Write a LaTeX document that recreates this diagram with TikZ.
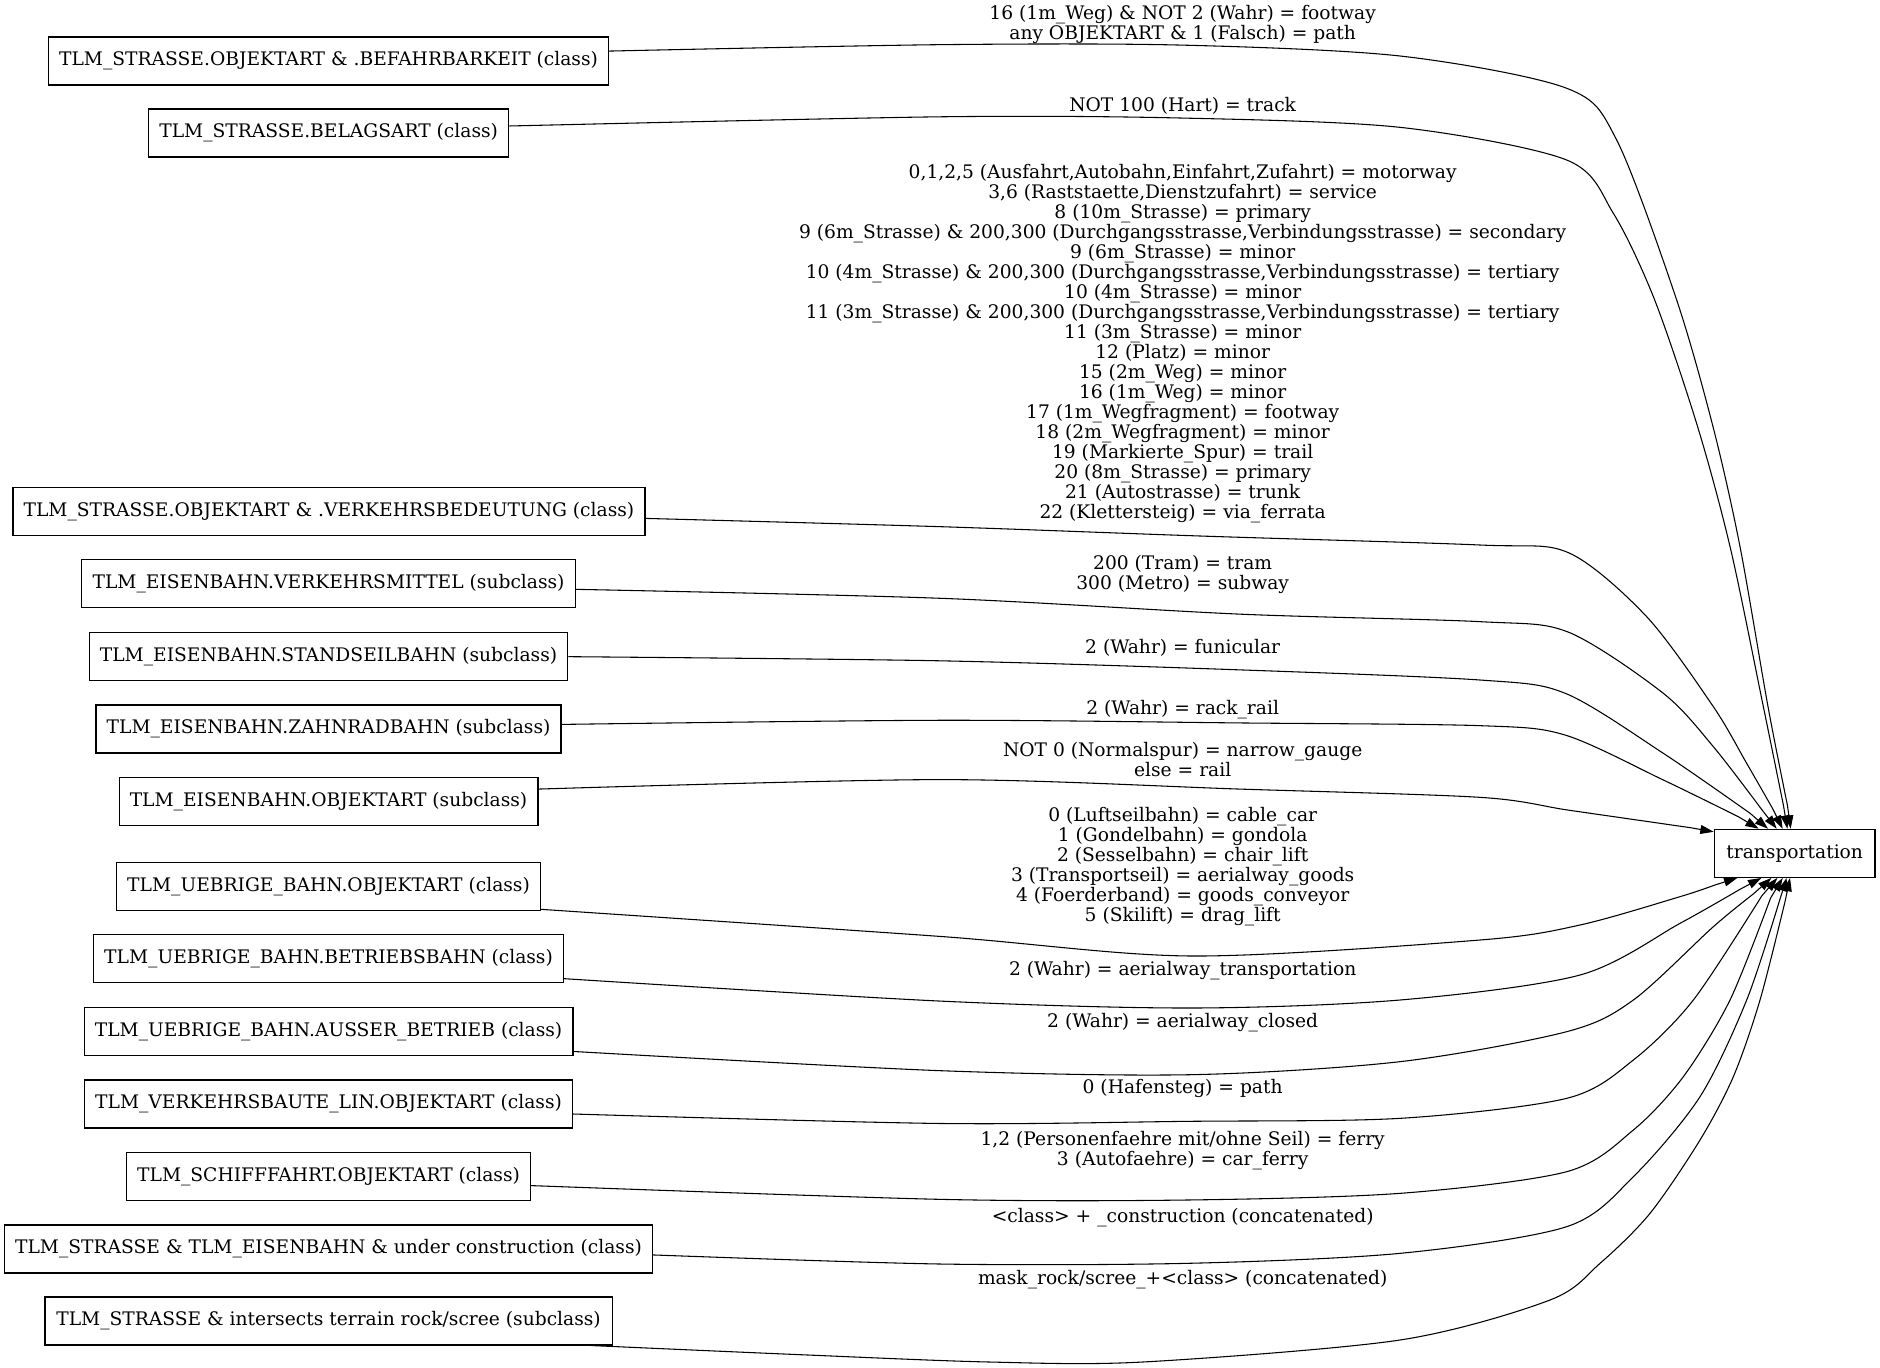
\documentclass[tikz,border=0pt]{standalone}
\usepackage{fontspec}
\setmainfont{DejaVu Serif}
\usetikzlibrary{arrows.meta}
\begin{document}
\begin{tikzpicture}[x=1pt,y=-1pt,
  gbox/.style={draw, line width=0.9pt, rectangle, minimum height=36pt, inner xsep=8pt, inner ysep=0pt, font=\fontsize{14}{15}\selectfont},
  lbl/.style={align=center, inner sep=0pt, font=\fontsize{14}{15}\selectfont},
  conn/.style={line width=0.8pt, -{Triangle[length=10pt,width=6.7pt]}},
  sm/.style={smooth, tension=0.5}
]
\useasboundingbox (0,0) rectangle (1410,1025.25);
% source nodes
\node[gbox, minimum width=418.2pt] (n1) at (246.4,45.7) {TLM\_STRASSE.OBJEKTART \& .BEFAHRBARKEIT (class)};
\node[gbox, minimum width=269pt] (n2) at (246.5,99.8) {TLM\_STRASSE.BELAGSART (class)};
\node[gbox, minimum width=473.5pt] (n3) at (246.7,383.5) {TLM\_STRASSE.OBJEKTART \& .VERKEHRSBEDEUTUNG (class)};
\node[gbox, minimum width=368.7pt] (n4) at (246.4,437.9) {TLM\_EISENBAHN.VERKEHRSMITTEL (subclass)};
\node[gbox, minimum width=357pt] (n5) at (246.4,492.5) {TLM\_EISENBAHN.STANDSEILBAHN (subclass)};
\node[gbox, minimum width=347pt] (n6) at (246.4,546.7) {TLM\_EISENBAHN.ZAHNRADBAHN (subclass)};
\node[gbox, minimum width=312.9pt] (n7) at (246.4,601) {TLM\_EISENBAHN.OBJEKTART (subclass)};
\node[gbox, minimum width=317.5pt] (n8) at (246.4,665) {TLM\_UEBRIGE\_BAHN.OBJEKTART (class)};
\node[gbox, minimum width=352.5pt] (n9) at (246.4,719) {TLM\_UEBRIGE\_BAHN.BETRIEBSBAHN (class)};
\node[gbox, minimum width=366pt] (n10) at (246.4,773.7) {TLM\_UEBRIGE\_BAHN.AUSSER\_BETRIEB (class)};
\node[gbox, minimum width=364.2pt] (n11) at (246.4,828) {TLM\_VERKEHRSBAUTE\_LIN.OBJEKTART (class)};
\node[gbox, minimum width=301.2pt] (n12) at (246.4,882.4) {TLM\_SCHIFFFAHRT.OBJEKTART (class)};
\node[gbox, minimum width=485.1pt] (n13) at (246.4,936.7) {TLM\_STRASSE \& TLM\_EISENBAHN \& under construction (class)};
\node[gbox, minimum width=425.4pt] (n14) at (246.4,990.7) {TLM\_STRASSE \& intersects terrain rock/scree (subclass)};
% target
\node[gbox, minimum width=120.6pt] (t) at (1346,640) {transportation};
% labels
\node[lbl] (l1) at (887,18.3) {16 (1m\_Weg) \& NOT 2 (Wahr) = footway\\any OBJEKTART \& 1 (Falsch) = path};
\node[lbl] (l2) at (887,79.5) {NOT 100 (Hart) = track};
\node[lbl] (l3) at (887,257.4) {0,1,2,5 (Ausfahrt,Autobahn,Einfahrt,Zufahrt) = motorway\\
3,6 (Raststaette,Dienstzufahrt) = service\\
8 (10m\_Strasse) = primary\\
9 (6m\_Strasse) \& 200,300 (Durchgangsstrasse,Verbindungsstrasse) = secondary\\
9 (6m\_Strasse) = minor\\
10 (4m\_Strasse) \& 200,300 (Durchgangsstrasse,Verbindungsstrasse) = tertiary\\
10 (4m\_Strasse) = minor\\
11 (3m\_Strasse) \& 200,300 (Durchgangsstrasse,Verbindungsstrasse) = tertiary\\
11 (3m\_Strasse) = minor\\
12 (Platz) = minor\\
15 (2m\_Weg) = minor\\
16 (1m\_Weg) = minor\\
17 (1m\_Wegfragment) = footway\\
18 (2m\_Wegfragment) = minor\\
19 (Markierte\_Spur) = trail\\
20 (8m\_Strasse) = primary\\
21 (Autostrasse) = trunk\\
22 (Klettersteig) = via\_ferrata};
\node[lbl] (l4) at (887,431.2) {200 (Tram) = tram\\300 (Metro) = subway};
\node[lbl] (l5) at (887,486.1) {2 (Wahr) = funicular};
\node[lbl] (l6) at (887,532.2) {2 (Wahr) = rack\_rail};
\node[lbl] (l7) at (887,570) {NOT 0 (Normalspur) = narrow\_gauge\\else = rail};
\node[lbl] (l8) at (887,650.3) {0 (Luftseilbahn) = cable\_car\\
1 (Gondelbahn) = gondola\\
2 (Sesselbahn) = chair\_lift\\
3 (Transportseil) = aerialway\_goods\\
4 (Foerderband) = goods\_conveyor\\
5 (Skilift) = drag\_lift};
\node[lbl] (l9) at (887,728.2) {2 (Wahr) = aerialway\_transportation};
\node[lbl] (l10) at (887,767.1) {2 (Wahr) = aerialway\_closed};
\node[lbl] (l11) at (887,816.4) {0 (Hafensteg) = path};
\node[lbl] (l12) at (887,862.9) {1,2 (Personenfaehre mit/ohne Seil) = ferry\\3 (Autofaehre) = car\_ferry};
\node[lbl] (l13) at (887,913) {<class> + \_construction (concatenated)};
\node[lbl] (l14) at (887,959.9) {mask\_rock/scree\_+<class> (concatenated)};
% edge end points
\coordinate (e1s) at ([yshift=7.4pt]n1.east);
\coordinate (e2s) at ([yshift=5.3pt]n2.east);
\coordinate (e3s) at ([yshift=-5.3pt]n3.east);
\coordinate (e4s) at ([yshift=-4.1pt]n4.east);
\coordinate (e5s) at (n5.east);
\coordinate (e6s) at ([yshift=3.4pt]n6.east);
\coordinate (e7s) at ([yshift=9.2pt]n7.east);
\coordinate (e8s) at ([yshift=-17pt]n8.east);
\coordinate (e9s) at ([yshift=-15pt]n9.east);
\coordinate (e10s) at ([yshift=-14.9pt]n10.east);
\coordinate (e11s) at ([yshift=-7.5pt]n11.east);
\coordinate (e12s) at ([yshift=-6.8pt]n12.east);
\coordinate (e13s) at ([yshift=-4.5pt]n13.east);
\coordinate (e14s) at ([xshift=-16pt]n14.south east);
\coordinate (e1t) at ([xshift=-3pt]t.north);
\coordinate (e2t) at ([xshift=-5.5pt]t.north);
\coordinate (e3t) at ([xshift=-9pt]t.north);
\coordinate (e4t) at ([xshift=-13.5pt]t.north);
\coordinate (e5t) at ([xshift=-20pt]t.north);
\coordinate (e6t) at ([xshift=-27pt]t.north);
\coordinate (e7t) at ([yshift=-2.3pt]t.north west);
\coordinate (e8t) at ([xshift=-43pt]t.south);
\coordinate (e9t) at ([xshift=-25pt]t.south);
\coordinate (e10t) at ([xshift=-17.5pt]t.south);
\coordinate (e11t) at ([xshift=-13pt]t.south);
\coordinate (e12t) at ([xshift=-9pt]t.south);
\coordinate (e13t) at ([xshift=-6pt]t.south);
\coordinate (e14t) at ([xshift=-3.5pt]t.south);
% edges
\draw[conn] plot[sm] coordinates {(e1s) (705,33.5) (885,33.8) (1050,42) (1175,66.2) (1212.5,105) (1257.5,225) (1285,321) (1305,410) (1326,530) (1340.6,604.2)} -- (e1t);
\draw[conn] plot[sm] coordinates {(e2s) (705,87.6) (885,88.5) (1050,95.5) (1175,120) (1210,160) (1241,225) (1273.5,321) (1298,412) (1322.5,530) (1337.6,604.2)} -- (e2t);
\draw[conn] plot[sm] coordinates {(e3s) (705,395) (900,402) (1110,408.75) (1176.3,414.5) (1235,462.5) (1285,530) (1310,572.5) (1329.1,605.8)} -- (e3t);
\draw[conn] plot[sm] coordinates {(e4s) (705,448.7) (929.8,460.6) (1110,466.25) (1176,474) (1247.5,520) (1285,560) (1321.7,607.7)} -- (e4t);
\draw[conn] plot[sm] coordinates {(e5s) (705,495.6) (929.8,502.4) (1110,510) (1174,520) (1247.5,565) (1312.6,610)} -- (e5t);
\draw[conn] plot[sm] coordinates {(e6s) (705,540.2) (929.8,542.2) (1110,544.25) (1173.75,551.25) (1247.5,585) (1303.7,612.5)} -- (e6t);
\draw[conn] plot[sm] coordinates {(e7s) (705,584.7) (929.8,591.8) (1110,598) (1177,607.7) (1268.1,620.8)} -- (e7t);
\draw[conn] plot[sm] coordinates {(e8s) (705,702.3) (894,717) (1110,705) (1185,693.75) (1260,672.5) (1286,663.8)} -- (e8t);
\draw[conn] plot[sm] coordinates {(e9s) (705,750.8) (894,756) (1050,750) (1185,731.25) (1260,692.5) (1305.3,666.8)} -- (e9t);
\draw[conn] plot[sm] coordinates {(e10s) (705,803) (894,806) (1050,796.25) (1175,773.75) (1225,750) (1285,695) (1315.3,670.2)} -- (e10t);
\draw[conn] plot[sm] coordinates {(e11s) (705,842.6) (890,841) (1050,838.75) (1175,823.75) (1225,795) (1270,750) (1321.4,671.8)} -- (e11t);
\draw[conn] plot[sm] coordinates {(e12s) (705,899.5) (890,900) (1050,895) (1175,878.75) (1225,847.5) (1262.5,807.5) (1297.5,750) (1327.9,673.6)} -- (e12t);
\draw[conn] plot[sm] coordinates {(e13s) (705,948) (890,947.5) (1050,940) (1175,920) (1225,882.5) (1275,822.5) (1310,750) (1334.7,675.2)} -- (e13t);
\draw[conn] plot[sm] coordinates {(e14s) (600,1016) (742,1021.5) (857,1021.5) (1050,1005) (1162.5,975) (1200,947.5) (1237.5,910) (1275,855) (1300,807.5) (1320,750) (1338.9,675.6)} -- (e14t);
\end{tikzpicture}
\end{document}
